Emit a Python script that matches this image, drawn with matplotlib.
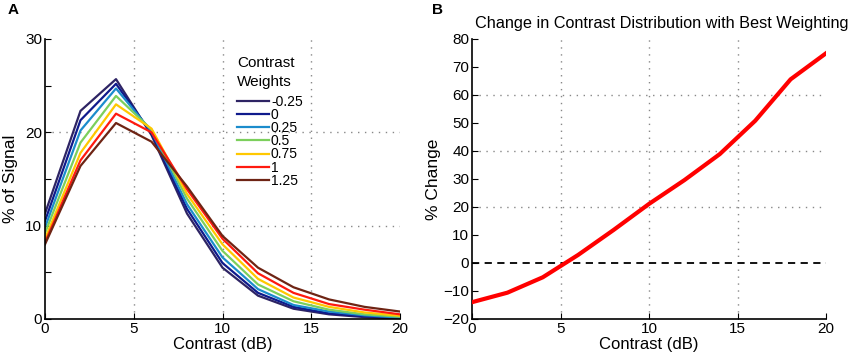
import matplotlib
matplotlib.use('Agg')
import matplotlib.pyplot as plt
import numpy as np

plt.rcParams['font.family'] = ['Liberation Sans', 'DejaVu Sans']

# contrast bins (dB)
contrast = [0, 2, 4, 6, 8, 10, 12, 14, 16, 18, 20]

# panel A: % of signal per contrast weight
weights = ['-0.25', '0', '0.25', '0.5', '0.75', '1', '1.25']
signal = [
    [11.3, 22.3, 25.7, 19.7, 11.3, 5.5, 2.5, 1.1, 0.5, 0.2, 0.05],
    [10.5, 21.3, 25.2, 19.9, 11.8, 6.0, 2.8, 1.3, 0.6, 0.3, 0.1],
    [9.8, 20.2, 24.7, 20.1, 12.3, 6.6, 3.2, 1.5, 0.8, 0.4, 0.15],
    [9.2, 18.9, 23.9, 20.3, 12.9, 7.3, 3.7, 1.9, 1.0, 0.5, 0.25],
    [8.6, 17.8, 23.0, 20.4, 13.4, 8.0, 4.3, 2.3, 1.3, 0.7, 0.35],
    [8.2, 17.0, 22.0, 20.0, 13.9, 8.6, 4.9, 2.8, 1.6, 1.0, 0.5],
    [8.0, 16.4, 21.0, 19.0, 14.2, 8.9, 5.5, 3.4, 2.1, 1.3, 0.8],
]
colors = ['#2e2464', '#0f1a8c', '#1b8ccc', '#7ccf5c', '#ffc800', '#ff1a0f', '#6e2414']

# panel B: % change with best weighting
change = [-14.0, -10.6, -5.1, 2.9, 11.8, 21.1, 29.6, 38.9, 50.8, 65.6, 74.9]

W, H = 851, 357
fig = plt.figure(figsize=(W / 100, H / 100), dpi=100)

def axes_px(l, r, t, b):
    return fig.add_axes([l / W, 1 - b / H, (r - l) / W, (b - t) / H])

def style(ax):
    ax.spines['top'].set_visible(False)
    ax.spines['right'].set_visible(False)
    ax.spines['left'].set_linewidth(1.2)
    ax.spines['bottom'].set_linewidth(1.2)
    ax.tick_params(direction='in', length=4, width=0.8, labelsize=11, pad=2)
    ax.tick_params(which='minor', direction='in', length=4, width=0.8)

grid_kw = dict(color='#888888', linestyle=(0, (1, 4)), linewidth=1.0, zorder=0)

# ---- panel A
axA = axes_px(45, 400, 39, 319)
for vals, lab, c in zip(signal, weights, colors):
    axA.plot(contrast, vals, color=c, linewidth=1.6, label=lab)
axA.set_xlim(0, 20)
axA.set_ylim(0, 30)
axA.set_xticks([0, 5, 10, 15, 20])
axA.set_yticks([0, 10, 20, 30])
axA.set_yticks([5, 15, 25], minor=True)
for gx in [5, 10, 15]:
    axA.axvline(gx, **grid_kw)
for gy in [10, 20]:
    axA.axhline(gy, **grid_kw)
style(axA)
axA.set_xlabel('Contrast (dB)', fontsize=12, labelpad=1)
axA.set_ylabel('% of Signal', fontsize=12.5, labelpad=5)
leg = axA.legend(title='Contrast\nWeights', frameon=False, loc='upper left',
                 bbox_to_anchor=(0.525, 0.96), fontsize=10, title_fontsize=11,
                 handlelength=2.3, handletextpad=0.15, labelspacing=-0.06,
                 borderaxespad=0)
leg._legend_box.align = 'left'
leg._legend_box.sep = 4
leg.get_title().set_linespacing(1.5)
fig.text(8 / W, 1 - 10 / H, 'A', fontsize=11, fontweight='bold', va='center')

# ---- panel B
axB = axes_px(472, 826, 39, 319)
axB.plot(contrast, change, color='#ff0000', linewidth=3.0, zorder=3)
axB.axhline(0, color='black', linestyle=(0, (4, 3)), linewidth=1.3, zorder=2)
axB.set_xlim(0, 20)
axB.set_ylim(-20, 80)
axB.set_xticks([0, 5, 10, 15, 20])
axB.set_yticks(np.arange(-20, 81, 10))
for gx in [5, 10, 15]:
    axB.axvline(gx, **grid_kw)
for gy in [20, 40, 60]:
    axB.axhline(gy, **grid_kw)
style(axB)
axB.set_xlabel('Contrast (dB)', fontsize=12, labelpad=1)
axB.set_ylabel('% Change', fontsize=12.5, labelpad=2)
axB.set_title('Change in Contrast Distribution with Best Weighting', fontsize=11.7, pad=8, x=0.535)
fig.text(432 / W, 1 - 10 / H, 'B', fontsize=11, fontweight='bold', va='center')

fig.savefig('out.png', dpi=100)
